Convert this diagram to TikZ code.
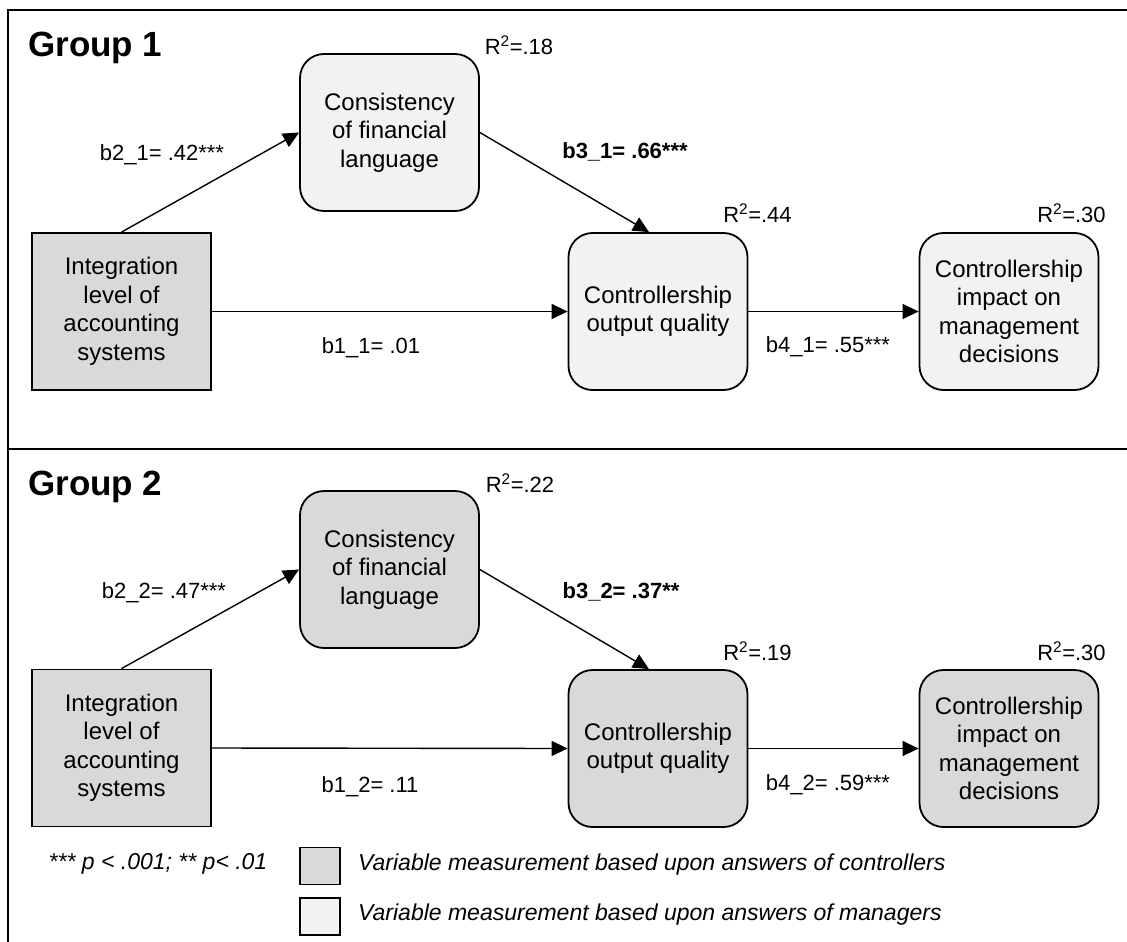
\documentclass[tikz,border=0pt]{standalone}
\usepackage{fontspec}
\setmainfont{Liberation Sans}
\usetikzlibrary{arrows.meta}
\definecolor{ctrlgray}{HTML}{D9D9D9}
\definecolor{mgrgray}{HTML}{F2F2F2}
\begin{document}
\begin{tikzpicture}[x=1pt,y=-1pt,
  var/.style={draw=black, line width=1.8pt, minimum width=179pt, minimum height=157pt,
    align=center, inner sep=0pt, font=\fontsize{24}{28.5}\selectfont},
  roundvar/.style={var, rounded corners=24pt},
  ctrl/.style={fill=ctrlgray},
  mgr/.style={fill=mgrgray},
  effect/.style={line width=1.4pt, -{Triangle[length=16pt,width=15pt]}},
  coef/.style={font=\fontsize{22}{26}\selectfont, inner sep=0pt},
  grouptitle/.style={font=\bfseries\fontsize{35}{40}\selectfont, anchor=base west, inner sep=0pt},
  legendbox/.style={draw=black, line width=1.6pt, minimum width=40pt, minimum height=37pt, inner sep=0pt},
  legendtext/.style={font=\itshape\fontsize{23}{27}\selectfont, anchor=west, inner sep=0pt},
  frameline/.style={line width=1.8pt}]

\useasboundingbox (0,0) rectangle (1127,942);

% outer frame and group divider
\draw[frameline] (8,942) -- (8,10) -- (1127,10);
\draw[frameline] (8,449) -- (1127,449);

% ---------------- Group 1 ----------------
\node[grouptitle] (g1) at (28,57) {Group 1};

\node[var, ctrl]      (int1) at (121.5,311.5) {Integration\\level of\\accounting\\systems};
\node[roundvar, mgr]  (con1) at (389.5,132.5) {Consistency\\of financial\\language};
\node[roundvar, mgr]  (out1) at (658,311.5)   {Controllership\\output quality};
\node[roundvar, mgr]  (imp1) at (1009,311.5)  {Controllership\\impact on\\management\\decisions};

\draw[effect] (int1.north) -- (con1.west);
\draw[effect] (con1.east) -- ([xshift=-9pt]out1.north);
\draw[effect] (int1.east) -- (out1.west);
\draw[effect] (out1.east) -- (imp1.west);

\node[coef] (r1a) at (519,45)    {R\textsuperscript{2}=.18};
\node[coef] (r1b) at (757.5,213) {R\textsuperscript{2}=.44};
\node[coef] (r1c) at (1071.5,213){R\textsuperscript{2}=.30};

\node[coef] (b21) at (162,155) {b2\_1= .42***};
\node[coef, font=\bfseries\fontsize{22}{26}\selectfont] (b31) at (625,152) {b3\_1= .66***};
\node[coef] (b11) at (371,348) {b1\_1= .01};
\node[coef] (b41) at (828,347) {b4\_1= .55***};

% ---------------- Group 2 ----------------
\node[grouptitle] (g2) at (28,495) {Group 2};

\node[var, ctrl]       (int2) at (121.5,748)   {Integration\\level of\\accounting\\systems};
\node[roundvar, ctrl]  (con2) at (389.5,569.5) {Consistency\\of financial\\language};
\node[roundvar, ctrl]  (out2) at (658,748.5)   {Controllership\\output quality};
\node[roundvar, ctrl]  (imp2) at (1009,748.5)  {Controllership\\impact on\\management\\decisions};

\draw[effect] (int2.north) -- (con2.west);
\draw[effect] (con2.east) -- ([xshift=-9pt]out2.north);
\draw[effect] (int2.east) -- (out2.west);
\draw[effect] (out2.east) -- (imp2.west);

\node[coef] (r2a) at (520,483)    {R\textsuperscript{2}=.22};
\node[coef] (r2b) at (757.5,651)  {R\textsuperscript{2}=.19};
\node[coef] (r2c) at (1071.5,651) {R\textsuperscript{2}=.30};

\node[coef] (b22) at (164,593) {b2\_2= .47***};
\node[coef, font=\bfseries\fontsize{22}{26}\selectfont] (b32) at (621,592) {b3\_2= .37**};
\node[coef] (b12) at (370,787) {b1\_2= .11};
\node[coef] (b42) at (828,785) {b4\_2= .59***};

% ---------------- Legend ----------------
\node[coef, font=\itshape\fontsize{23}{27}\selectfont] (sig) at (158,864) {*** p < .001; ** p< .01};
\node[legendbox, fill=ctrlgray] (lg1) at (320,866) {};
\node[legendbox, fill=mgrgray]  (lg2) at (320,916.5) {};
\node[legendtext] (lt1) at (358,865) {Variable measurement based upon answers of controllers};
\node[legendtext] (lt2) at (358,915) {Variable measurement based upon answers of managers};

\end{tikzpicture}
\end{document}
